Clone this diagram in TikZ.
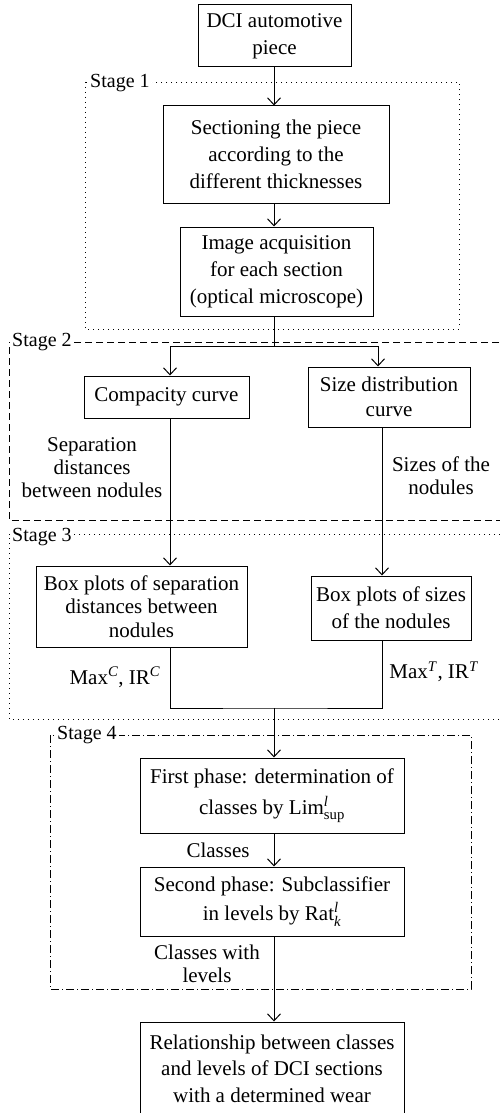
\documentclass[tikz,border=0pt]{standalone}
\usepackage{amsmath}
\usepackage{fontspec}
\setmainfont{Liberation Serif}
\usetikzlibrary{arrows.meta}
\begin{document}
\begin{tikzpicture}[x=1pt,y=-1pt,
  box/.style={draw, line width=1pt, align=center, inner sep=0pt, font=\fontsize{21}{27}\selectfont},
  lbl/.style={align=center, inner sep=0pt, font=\fontsize{21}{23}\selectfont},
  stg/.style={fill=white, inner xsep=2pt, inner ysep=1pt, anchor=west, font=\fontsize{20}{24}\selectfont},
  conn/.style={line width=1pt},
  arr/.style={conn, -{Straight Barb[length=7pt,width=13pt]}},
  dotfr/.style={line width=0.9pt, dash pattern=on 1pt off 4pt},
  dashfr/.style={line width=1pt, dash pattern=on 7pt off 4pt},
  dashdotfr/.style={line width=0.9pt, dash pattern=on 8pt off 3pt on 1pt off 3pt},
]
\useasboundingbox (0,0) rectangle (500,1113);

% stage frames
\draw[dotfr] (85,82) rectangle (459,329);
\draw[dashfr] (510,342) -- (9,342) -- (9,520) -- (510,520);
\draw[dotfr] (510,534) -- (9,534) -- (9,719) -- (510,719);
\draw[dashdotfr] (50,735) rectangle (471,989);

\node[stg] (s1) at (88,83) {Stage 1};
\node[stg] (s2) at (10,342) {Stage 2};
\node[stg] (s3) at (10,537) {Stage 3};
\node[stg] (s4) at (55,735) {Stage 4};

% boxes
\node[box, minimum width=153pt, minimum height=62pt] (dci) at (274.5,36) {DCI automotive\\piece};
\node[box, minimum width=226pt, minimum height=97pt] (sec) at (276,154.5) {Sectioning the piece\\according to the\\different thicknesses};
\node[box, minimum width=193pt, minimum height=89pt] (img) at (276.5,271.5) {Image acquisition\\for each section\\(optical microscope)};
\node[box, minimum width=165pt, minimum height=42pt] (comp) at (166.5,397) {Compacity curve};
\node[box, minimum width=162pt, minimum height=60pt, font=\fontsize{21}{25}\selectfont] (size) at (389,397) {Size distribution\\curve};
\node[box, minimum width=211pt, minimum height=81pt, font=\fontsize{21}{23.5}\selectfont] (bsep) at (141.5,606.5) {Box plots of separation\\distances between\\nodules};
\node[box, minimum width=160pt, minimum height=64pt] (bsize) at (391,608) {Box plots of sizes\\of the nodules};
\node[box, minimum width=264pt, minimum height=75pt, font=\fontsize{21}{31}\selectfont] (first) at (272,795.5) {First phase: determination of\\classes by Lim$^{\textit{l}}_{\textrm{sup}}$};
\node[box, minimum width=264pt, minimum height=69pt, font=\fontsize{21}{29}\selectfont] (second) at (272,901.5) {Second phase: Subclassifier\\in levels by Rat$^{\textit{l}}_{\textit{k}}$};
\node[box, minimum width=264pt, minimum height=93pt, font=\fontsize{21}{26.5}\selectfont] (rel) at (272,1068.5) {Relationship between classes\\and levels of DCI sections\\with a determined wear};

% labels
\node[lbl] (lsep) at (92,468) {Separation\\distances\\between nodules};
\node[lbl] (lsize) at (441,476) {Sizes of the\\nodules};
\node[lbl] (lmaxc) at (115,677) {Max\textsuperscript{\textit{C}}, IR\textsuperscript{\textit{C}}};
\node[lbl] (lmaxt) at (434,672) {Max\textsuperscript{\textit{T}}, IR\textsuperscript{\textit{T}}};
\node[lbl] (lcls) at (218,850) {Classes};
\node[lbl] (lclsl) at (207,964) {Classes with\\levels};

% connectors
\coordinate (split) at (274,346);
\coordinate (merge) at (274,708);
\draw[arr] (dci.south -| split) -- (split |- sec.north);
\draw[arr] (sec.south -| split) -- (split |- img.north);
\draw[conn] (img.south -| split) -- (split);
\draw[arr] (split) -| ([xshift=3.5pt]comp.north);
\draw[arr] (split) -| ([xshift=-11pt]size.north);
\draw[arr] ([xshift=3.5pt]comp.south) -- ([xshift=3.5pt]comp.south |- bsep.north);
\draw[arr] ([xshift=-7pt]size.south) -- ([xshift=-7pt]size.south |- bsize.north);
\draw[conn] ([xshift=3.5pt]comp.south |- bsep.south) |- (merge) -| ([xshift=-7pt]size.south |- bsize.south);
\draw[arr] (merge) -- (merge |- first.north);
\draw[arr] (first.south -| merge) -- (merge |- second.north);
\draw[arr] (second.south -| merge) -- (merge |- rel.north);
\end{tikzpicture}
\end{document}
